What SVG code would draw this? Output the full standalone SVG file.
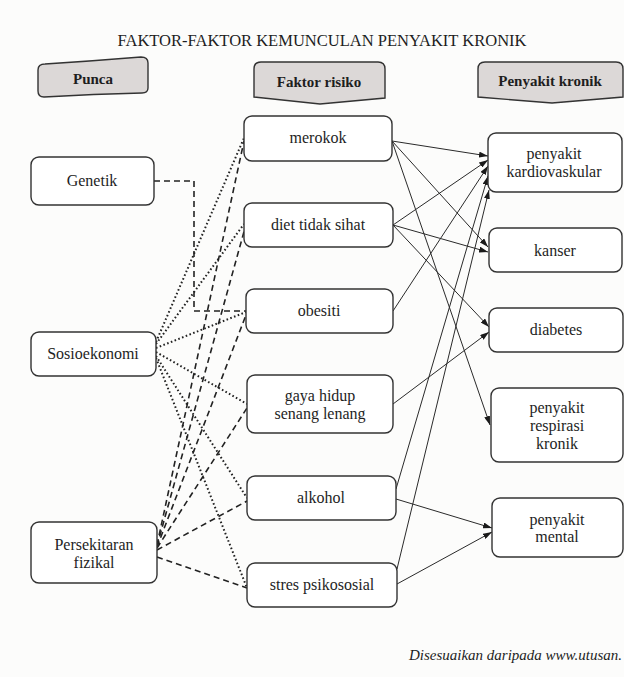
<svg xmlns="http://www.w3.org/2000/svg" width="624" height="677" viewBox="0 0 624 677">
<style>
.t{font-family:"Liberation Serif","Times New Roman",serif;font-size:16px;fill:#1e1e1e;text-anchor:middle}
.h{font-family:"Liberation Serif","Times New Roman",serif;font-size:15px;font-weight:bold;fill:#1e1e1e;text-anchor:middle}
.box{fill:#ffffff;stroke:#333;stroke-width:1.4}
.hd{fill:#dcd8d7;stroke:#333;stroke-width:1.4}
.sol{fill:none;stroke:#2a2a2a;stroke-width:1}
.dot{fill:none;stroke:#222;stroke-width:2;stroke-dasharray:1.6 2.4}
.dash{fill:none;stroke:#222;stroke-width:1.6;stroke-dasharray:6 4}
</style>
<defs>
<marker id="ar" viewBox="0 0 9 6" refX="9" refY="3" markerWidth="9" markerHeight="6" markerUnits="userSpaceOnUse" orient="auto">
<path d="M0,0 L9,3 L0,6 Z" fill="#1a1a1a"/>
</marker>
</defs>
<rect width="624" height="677" fill="#fcfcfb"/>
<text x="322" y="46" style="font-family:'Liberation Serif','Times New Roman',serif;font-size:16px;fill:#1e1e1e;text-anchor:middle" textLength="409" lengthAdjust="spacingAndGlyphs">FAKTOR-FAKTOR KEMUNCULAN PENYAKIT KRONIK</text>

<g id="h-punca">
<path class="hd" d="M45,64 Q92,61 141,57 Q148,57 148,63 L148,88 Q148,93 142,93 Q94,94 44,97 Q38,97 38,91 L38,70 Q38,64 45,64 Z"/>
<text class="h" x="93" y="84">Punca</text>
</g>
<g id="h-faktor">
<path class="hd" d="M261,62 L378,62 Q385,62 385,69 L385,98 L320,104 L254,97 L254,69 Q254,62 261,62 Z"/>
<text class="h" x="319" y="87">Faktor risiko</text>
</g>
<g id="h-penyakit">
<path class="hd" d="M485,62 L616,62 Q623,62 623,69 L623,97 L552,103 L478,97 L478,69 Q478,62 485,62 Z"/>
<text class="h" x="550" y="86">Penyakit kronik</text>
</g>

<g id="connectors">
<polyline class="dash" points="154,181 194,181 194,311 246,311"/>
<line class="dot" x1="156" y1="342" x2="244" y2="138"/>
<line class="dot" x1="156" y1="344" x2="244" y2="224"/>
<line class="dot" x1="156" y1="348" x2="246" y2="312"/>
<line class="dot" x1="156" y1="352" x2="247" y2="404"/>
<line class="dot" x1="156" y1="356" x2="247" y2="498"/>
<line class="dot" x1="156" y1="358" x2="247" y2="588"/>
<line class="dash" x1="157" y1="545" x2="244" y2="141"/>
<line class="dash" x1="157" y1="546" x2="245" y2="228"/>
<line class="dash" x1="157" y1="547" x2="246" y2="315"/>
<line class="dash" x1="157" y1="548" x2="247" y2="408"/>
<line class="dash" x1="157" y1="550" x2="247" y2="501"/>
<line class="dash" x1="157" y1="557" x2="247" y2="588"/>
<line class="sol" x1="392" y1="141" x2="488" y2="156" marker-end="url(#ar)"/>
<line class="sol" x1="392" y1="141" x2="488" y2="247" marker-end="url(#ar)"/>
<line class="sol" x1="392" y1="141" x2="490" y2="425" marker-end="url(#ar)"/>
<line class="sol" x1="393" y1="225" x2="488" y2="160" marker-end="url(#ar)"/>
<line class="sol" x1="393" y1="225" x2="488" y2="252" marker-end="url(#ar)"/>
<line class="sol" x1="393" y1="225" x2="489" y2="327" marker-end="url(#ar)"/>
<line class="sol" x1="393" y1="311" x2="488" y2="166" marker-end="url(#ar)"/>
<line class="sol" x1="393" y1="404" x2="489" y2="332" marker-end="url(#ar)"/>
<line class="sol" x1="396" y1="489" x2="488" y2="176" marker-end="url(#ar)"/>
<line class="sol" x1="396" y1="499" x2="492" y2="528" marker-end="url(#ar)"/>
<line class="sol" x1="397" y1="569" x2="489" y2="190" marker-end="url(#ar)"/>
<line class="sol" x1="397" y1="584" x2="492" y2="532" marker-end="url(#ar)"/>
</g>

<g id="n-genetik"><rect class="box" x="31" y="157" width="123" height="48" rx="8"/><text class="t" x="92" y="186">Genetik</text></g>
<g id="n-sosioekonomi"><rect class="box" x="31" y="332" width="125" height="44" rx="8"/><text class="t" x="93" y="359">Sosioekonomi</text></g>
<g id="n-persekitaran"><rect class="box" x="31" y="522" width="126" height="61" rx="8"/><text class="t" x="94" y="550">Persekitaran</text><text class="t" x="94" y="568">fizikal</text></g>

<g id="n-merokok"><rect class="box" x="244" y="116" width="148" height="45" rx="8"/><text class="t" x="318" y="143">merokok</text></g>
<g id="n-diet"><rect class="box" x="244" y="203" width="149" height="44" rx="8"/><text class="t" x="318" y="230">diet tidak sihat</text></g>
<g id="n-obesiti"><rect class="box" x="246" y="289" width="147" height="44" rx="8"/><text class="t" x="319" y="316">obesiti</text></g>
<g id="n-gaya"><rect class="box" x="247" y="375" width="146" height="58" rx="8"/><text class="t" x="320" y="401">gaya hidup</text><text class="t" x="320" y="419">senang lenang</text></g>
<g id="n-alkohol"><rect class="box" x="247" y="476" width="149" height="44" rx="8"/><text class="t" x="321" y="503">alkohol</text></g>
<g id="n-stres"><rect class="box" x="247" y="563" width="150" height="44" rx="8"/><text class="t" x="322" y="590">stres psikososial</text></g>

<g id="n-kardio"><rect class="box" x="488" y="133" width="134" height="59" rx="8"/><text class="t" x="554" y="159">penyakit</text><text class="t" x="554" y="177">kardiovaskular</text></g>
<g id="n-kanser"><rect class="box" x="489" y="228" width="133" height="44" rx="8"/><text class="t" x="555" y="256">kanser</text></g>
<g id="n-diabetes"><rect class="box" x="489" y="308" width="134" height="44" rx="8"/><text class="t" x="556" y="335">diabetes</text></g>
<g id="n-respirasi"><rect class="box" x="491" y="388" width="132" height="74" rx="8"/><text class="t" x="557" y="413">penyakit</text><text class="t" x="557" y="431">respirasi</text><text class="t" x="557" y="449">kronik</text></g>
<g id="n-mental"><rect class="box" x="492" y="498" width="131" height="59" rx="8"/><text class="t" x="557" y="525">penyakit</text><text class="t" x="557" y="542">mental</text></g>

<text x="622" y="660" style="font-family:'Liberation Serif','Times New Roman',serif;font-size:15px;font-style:italic;fill:#1e1e1e;text-anchor:end">Disesuaikan daripada www.utusan.</text>
</svg>
